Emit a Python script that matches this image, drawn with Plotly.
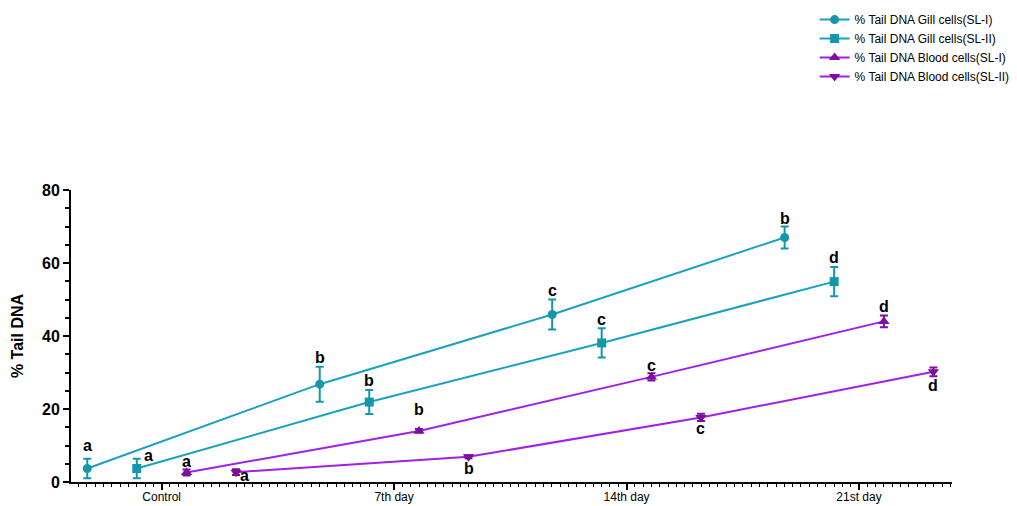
import plotly.graph_objects as go

categories = ["Control", "7th day", "14th day", "21st day"]

series_names = [
    "% Tail DNA Gill cells(SL-I)",
    "% Tail DNA Gill cells(SL-II)",
    "% Tail DNA Blood cells(SL-I)",
    "% Tail DNA Blood cells(SL-II)",
]

gill_sl1 = [3.7, 26.8, 45.9, 67.0]
gill_sl1_err = [2.7, 4.8, 4.1, 3.0]
gill_sl2 = [3.7, 21.9, 38.1, 54.9]
gill_sl2_err = [2.7, 3.3, 4.0, 4.0]
blood_sl1 = [2.6, 14.0, 28.8, 44.0]
blood_sl1_err = [0.8, 0.5, 1.0, 1.6]
blood_sl2 = [2.7, 6.9, 17.7, 30.2]
blood_sl2_err = [0.8, 0.4, 1.0, 1.2]

gill_sl1_letters = ["a", "b", "c", "b"]
gill_sl2_letters = ["a", "b", "c", "d"]
blood_sl1_letters = ["a", "b", "c", "d"]
blood_sl2_letters = ["a", "b", "c", "d"]

values = [gill_sl1, gill_sl2, blood_sl1, blood_sl2]
errors = [gill_sl1_err, gill_sl2_err, blood_sl1_err, blood_sl2_err]
letters = [gill_sl1_letters, gill_sl2_letters, blood_sl1_letters, blood_sl2_letters]

# style / layout settings
offsets = [-0.32, -0.107, 0.107, 0.32]
symbols = ["circle", "square", "triangle-up", "triangle-down"]
teal_line, teal_mark = "#1ba1c0", "#1597aa"
purp_line, purp_mark = "#a21fe6", "#7a109c"
line_colors = [teal_line, teal_line, purp_line, purp_line]
mark_colors = [teal_mark, teal_mark, purp_mark, purp_mark]
label_above = [True, True, True, False]
# pixel shifts (dx, dy) of letter labels relative to error-bar end
label_shift = [
    [(0, 13), (0, 9), (0, 9), (0, 8)],
    [(12, 3), (0, 10), (0, 9), (0, 10)],
    [(0, 8), (0, 20), (0, 8), (0, 9)],
    [(8, 0), (0, 10), (0, 7), (0, 9)],
]

font = "Arial, Liberation Sans, sans-serif"
fig = go.Figure()

for i in range(4):
    xs = [j + offsets[i] for j in range(len(categories))]
    fig.add_trace(go.Scatter(
        x=xs, y=values[i], name=series_names[i], mode="lines+markers",
        line=dict(color=line_colors[i], width=2),
        marker=dict(symbol=symbols[i], size=9 if i < 2 else 10, color=mark_colors[i]),
        error_y=dict(type="data", array=errors[i], visible=True,
                     color=mark_colors[i], thickness=2, width=4),
    ))
    for j in range(len(categories)):
        dx, dy = label_shift[i][j]
        if label_above[i]:
            yv = values[i][j] + errors[i][j]
            ys = dy
        else:
            yv = values[i][j] - errors[i][j]
            ys = -dy
        fig.add_annotation(
            x=xs[j], y=yv, xref="x", yref="y", text=letters[i][j],
            showarrow=False, xshift=dx, yshift=ys, yanchor="middle",
            font=dict(family=font, size=16, color="black", weight="bold"),
        )

fig.update_layout(
    width=1017, height=506,
    margin=dict(l=71, r=65, t=190, b=24, autoexpand=False),
    paper_bgcolor="white", plot_bgcolor="white",
    font=dict(family=font, color="black"),
    showlegend=True,
    legend=dict(xref="container", yref="container", x=0.801, y=0.99,
                xanchor="left", yanchor="top",
                font=dict(size=12, family=font, color="black"),
                bgcolor="rgba(0,0,0,0)", tracegroupgap=0),
)
fig.update_xaxes(
    range=[-0.39, 3.40], tickmode="array", tickvals=list(range(len(categories))),
    ticktext=categories, showgrid=False, zeroline=False, automargin=False,
    showline=True, linecolor="black", linewidth=2,
    ticks="outside", ticklen=6, tickwidth=2, tickcolor="black",
    tickfont=dict(size=12, family=font), ticklabelstandoff=-3,
    minor=dict(tickmode="linear", tick0=0, dtick=1 / 28, ticks="outside",
               ticklen=3, tickwidth=1, tickcolor="black", showgrid=False),
)
fig.update_yaxes(
    range=[0, 80], tickmode="linear", tick0=0, dtick=20,
    showgrid=False, zeroline=False, automargin=False,
    showline=True, linecolor="black", linewidth=2,
    ticks="outside", ticklen=6, tickwidth=2, tickcolor="black",
    tickfont=dict(size=16, family=font, weight="bold"),
    title=dict(text="% Tail DNA", font=dict(size=16, family=font, weight="bold"), standoff=14),
    minor=dict(tickmode="linear", tick0=0, dtick=5, ticks="outside",
               ticklen=4, tickwidth=2, tickcolor="black", showgrid=False),
)

fig.write_html(
    "out.html",
    config={"displayModeBar": False},
    post_script="document.body.style.margin='0';",
)
